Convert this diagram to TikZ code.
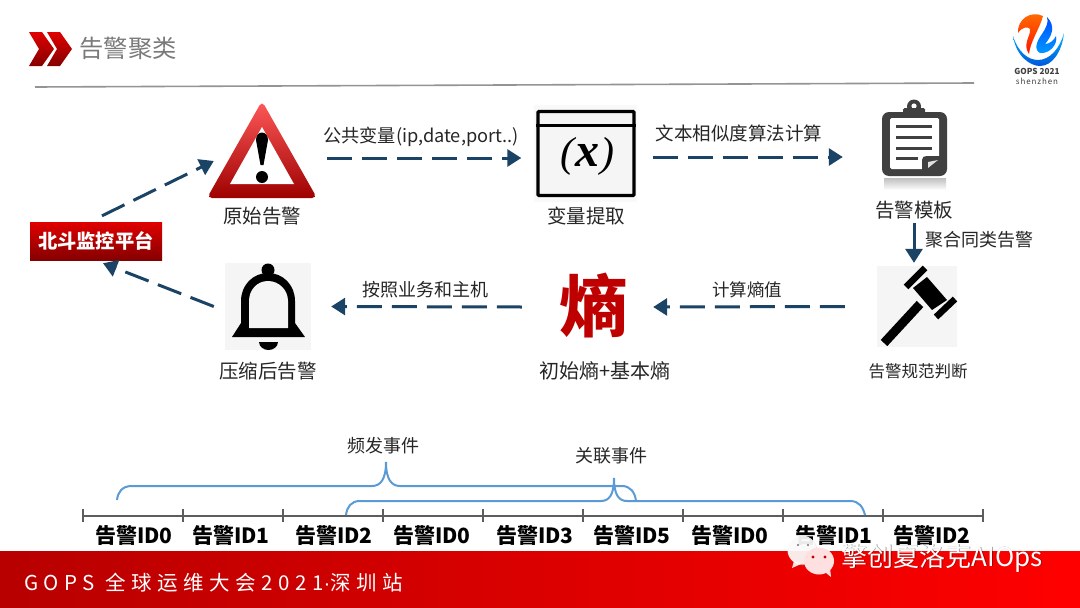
\documentclass[tikz,border=0pt]{standalone}
\usepackage{fontspec}
\setmainfont{Noto Sans CJK SC}
\newfontfamily\mathlike{Liberation Serif}
\newfontfamily\dotfont{Liberation Sans}
\usetikzlibrary{arrows.meta,calc}
\definecolor{navy}{HTML}{1B4365}
\definecolor{bracec}{HTML}{5B9BD5}
\definecolor{iconbg}{HTML}{F5F5F5}
\definecolor{dark}{HTML}{404040}
\definecolor{txt}{HTML}{262626}
\definecolor{redtop}{HTML}{E00000}
\definecolor{redbot}{HTML}{850000}
\newcommand{\fs}[1]{\fontsize{#1}{#1}\selectfont}
\tikzset{
  x=1pt,y=-1pt,
  lab/.style={inner sep=0pt,text=txt,font=\fs{19.5}},
  idlab/.style={inner sep=0pt,text=black,font=\fs{21}\bfseries},
  anchorbox/.style={inner sep=0pt,minimum width=#1},
  dashflow/.style={navy,line width=3pt,dash pattern=on 25pt off 10pt,-{Triangle[length=14pt,width=17pt]}},
  solidflow/.style={navy,line width=3pt,-{Triangle[length=14pt,width=17pt]}},
  bracepath/.style={bracec,line width=2pt},
  tick/.style={draw=dark!85,line width=1.6pt},
  redgrad/.style={top color=redtop,middle color=redtop,bottom color=redbot,draw=none},
}
\begin{document}
\begin{tikzpicture}
\useasboundingbox (0,0) rectangle (1080,608);
\fill[white] (0,0) rectangle (1080,608);

% header
\foreach \dx in {0,18}{
  \shade[redgrad,shift={(\dx,0)}] (29,32)--(42,32)--(54,49)--(42,66)--(29,66)--(39,49)--cycle;
}
\node[inner sep=0pt,text=black!52,font=\fs{24.3}] (title) at (128,48) {告警聚类};
\draw[black!42,line width=1.6pt] (35,87) -- (974,83);

% logo
\shade[top color=cyan!70!blue,bottom color=blue!60!cyan!85!black,draw=none] (1013,36) .. controls (1016,56) and (1030,66) .. (1040,66) .. controls (1052,66) and (1062,52) .. (1064,33) .. controls (1060,48) and (1050,60) .. (1038,60) .. controls (1028,60) and (1018,52) .. (1013,36) -- cycle;
\shade[top color=orange!90!red,bottom color=red!85!orange,draw=none] (1043,16) .. controls (1030,10) and (1017,20) .. (1018,33) .. controls (1022,27) and (1028,26) .. (1030,29) .. controls (1031,36) and (1022,44) .. (1029,54) .. controls (1030,42) and (1040,28) .. (1043,16) -- cycle;
\shade[top color=blue!70!cyan,bottom color=cyan!60!blue,draw=none] (1047,17) .. controls (1056,26) and (1052,36) .. (1045,44) .. controls (1050,44) and (1054,40) .. (1056,36) .. controls (1058,44) and (1050,54) .. (1040,53) .. controls (1034,50) and (1036,42) .. (1042,34) .. controls (1046,28) and (1049,22) .. (1047,17) -- cycle;
\node[inner sep=0pt,text=dark,font=\fs{8.2}\bfseries] (logoa) at (1037,71) {GOPS 2021};
\node[inner sep=0pt,text=dark,font=\fs{8}\addfontfeature{LetterSpace=11}] (logob) at (1037,81.5) {shenzhen};

% platform
\node[inner sep=0pt,minimum width=132pt,minimum height=38pt,top color=redtop,middle color=redtop!90!black,bottom color=redbot,text=white,font=\fs{19.3}\bfseries] (plat) at (96,241) {北斗监控平台};

% warning icon
\node[anchorbox=108pt,minimum height=94pt] (warn) at (262,150) {};
\shade[top color=red!65!white,bottom color=red!62!black,draw=none,rounded corners=5pt] (262,101) -- (317,198) -- (207,198) -- cycle;
\fill[white] (262,127) -- (294,184) -- (230,184) -- cycle;
\fill[black] (256,140) .. controls (256,130) and (268,130) .. (268,140) -- (263.5,165) -- (260.5,165) -- cycle;
\fill[black] (262,177) circle[radius=6pt];
\node[lab] (warnl) at (262,216) {原始告警};

% window icon
\fill[iconbg!60!white] (534,105) rectangle (637,202);
\node[draw=black,line width=3.4pt,fill=iconbg,rounded corners=1pt,minimum width=96pt,minimum height=84pt,inner sep=0pt] (win) at (586,153.5) {};
\draw[black,line width=3pt] (win.west |- 0,125.5) -- (win.east |- 0,125.5);
\node[inner sep=0pt,text=black,font=\mathlike\fs{42}\itshape] (winx) at (587.5,156) {(\kern1pt\textbf{\fs{48}x}\kern1pt)};
\node[lab] (winl) at (586,216) {变量提取};

% clipboard icon
\node[anchorbox=66pt,minimum height=77pt] (clip) at (915,139) {};
\shade[top color=black!25,bottom color=white,draw=none] (884,178) rectangle (946,190);
\fill[dark,rounded corners=7pt] (882,112) rectangle (947,176);
\fill[dark] (914,106.5) circle[radius=7pt];
\fill[white] (914,106) circle[radius=2.6pt];
\fill[white,rounded corners=1.5pt] (890,118) rectangle (939,169);
\fill[dark,rounded corners=1.5pt] (903,108) rectangle (925,117.5);
\foreach \yy in {126,137,148}{\draw[dark,line width=3pt] (896,\yy) -- (932,\yy);}
\draw[dark,line width=3pt] (896,158) -- (918,158);
\fill[dark] (922,170) -- (922,160) .. controls (922,157) and (924,156) .. (927,156) -- (940,156) -- (940,170) -- cycle;
\fill[black!12] (928,168) -- (928,162) -- (938,160) -- cycle;
\node[lab] (clipl) at (914,210) {告警模板};

% gavel icon
\node[fill=iconbg,inner sep=0pt,minimum width=80pt,minimum height=81pt] (gavel) at (917,306.5) {};
\draw[black,line width=9pt] (884,343) -- (920,304);
\fill[black] (913,288) -- (927,277) -- (947,300) -- (932,310) -- cycle;
\draw[black,line width=6.5pt] (906,287) -- (925,268);
\draw[black,line width=6.5pt] (936,317) -- (955,299);
\node[lab,font=\fs{16.5}] (gavell) at (918,371) {告警规范判断};

% entropy
\node[inner sep=0pt,text=red!75!black,font=\fs{68}\bfseries] (ent) at (593,306) {熵};
\node[lab,font=\fs{20}] (entl) at (605,371) {初始熵+基本熵};

% bell icon
\node[fill=iconbg,inner sep=0pt,minimum width=86pt,minimum height=87pt] (bell) at (268,306.5) {};
\fill[black] (268,270) circle[radius=6.5pt];
\fill[black] (232,337) -- (241,323) -- (241,301) .. controls (241,285) and (253,273) .. (268,273) .. controls (283,273) and (295,285) .. (295,301) -- (295,323) -- (305,337) -- cycle;
\fill[iconbg] (249,328) -- (249,301) .. controls (249,290) and (257,281) .. (268,281) .. controls (279,281) and (288,290) .. (288,301) -- (288,328) -- cycle;
\fill[black] (259,342) -- (278,342) .. controls (278,347) and (273,350) .. (268.5,350) .. controls (264,350) and (259,347) .. (259,342) -- cycle;
\node[lab] (belll) at (268,371) {压缩后告警};

% flow connectors
\draw[dashflow] ([shift={(6,-6)}]plat.north) -- ([shift={(6,11)}]warn.west);
\draw[dashflow] ([shift={(11,8)}]warn.east) -- ([shift={(-15,4.5)}]win.west);
\draw[dashflow] ([shift={(17,3.5)}]win.east) -- ([shift={(-39,18)}]clip.west);
\draw[solidflow] ([shift={(0,4)}]clipl.south) -- ([shift={(-3,-3)}]gavel.north);
\draw[dashflow] ([shift={(-32,0)}]gavel.west) -- ([shift={(26,1)}]ent.east);
\draw[dashflow] ([shift={(-37,1)}]ent.west) -- ([shift={(20,0)}]bell.east);
\draw[dashflow] ([shift={(-11,0)}]bell.west) -- ([shift={(7,3)}]plat.south);

% connector labels
\node[lab,font=\fs{18.2}] (la) at (421,137) {公共变量(ip,date,port..)};
\node[lab,font=\fs{18.5}] (lb) at (739,133) {文本相似度算法计算};
\node[lab,font=\fs{18}] (lc) at (979,240) {聚合同类告警};
\node[lab,font=\fs{17.5}] (ld) at (747,290) {计算熵值};
\node[lab,font=\fs{18}] (le) at (425,290) {按照业务和主机};

% timeline
\draw[tick] (83,516) -- (983,516);
\foreach \xx in {83,183,283,383,483,583,683,783,883,983}{\draw[tick] (\xx,509) -- (\xx,522);}
\foreach \xx/\tt/\nn in {134/告警ID0/a,231/告警ID1/b,334/告警ID2/c,432/告警ID0/d,535/告警ID3/e,632/告警ID5/f,730/告警ID0/g,834/告警ID1/h,932/告警ID2/i}{
  \node[idlab] (id\nn) at (\xx,535) {\tt};
}

% braces
\node[lab,font=\fs{18}] (fa) at (383,446) {频发事件};
\node[lab,font=\fs{18}] (fb) at (611,456) {关联事件};
\draw[bracepath] (117,500) .. controls (118,492) and (122,486) .. (132,486) -- (372,486) .. controls (380,486) and (386,480) .. (386,462) .. controls (386,480) and (392,486) .. (400,486) -- (622,486) .. controls (630,486) and (635,492) .. (636,501);
\draw[bracepath] (346,515) .. controls (347,507) and (351,501) .. (360,501) -- (601,501) .. controls (609,501) and (614,495) .. (614,478) .. controls (614,495) and (619,501) .. (627,501) -- (850,501) .. controls (859,501) and (863,507) .. (865,515);

% footer
\shade[left color=red!72!black,right color=red,draw=none] (0,551) rectangle (1080,608);
\node[inner sep=0pt,anchor=west,text=white,font=\fs{20.5}\addfontfeature{LetterSpace=27}] (foot) at (24,583) {GOPS 全球运维大会2021{\dotfont\fs{20.5}·}深圳站};

% watermark
\fill[black!30,opacity=.5] (802.6,550.8) circle[radius=14.5pt];
\fill[white,opacity=.88] (802,550) circle[radius=14.5pt];
\fill[white,opacity=.88] (794,561) -- (792,568) -- (801,564) -- cycle;
\fill[black!55] (798,545) circle[radius=1.2pt];
\fill[black!55] (808,545) circle[radius=1.2pt];
\fill[red!12!white] (819,561) ellipse[x radius=15pt,y radius=13.5pt];
\fill[red!12!white] (825,572) -- (831,577) -- (830,568) -- cycle;
\fill[red!75!black] (813,557) circle[radius=1.6pt];
\fill[red!75!black] (825,557) circle[radius=1.6pt];
\node[inner sep=0pt,text=black,opacity=.35,font=\fs{26}] (wmshadow) at (943,559) {擎创夏洛克AIOps};
\node[inner sep=0pt,text=white,font=\fs{26}] (wm) at (942.3,558.3) {擎创夏洛克AIOps};
\end{tikzpicture}
\end{document}
